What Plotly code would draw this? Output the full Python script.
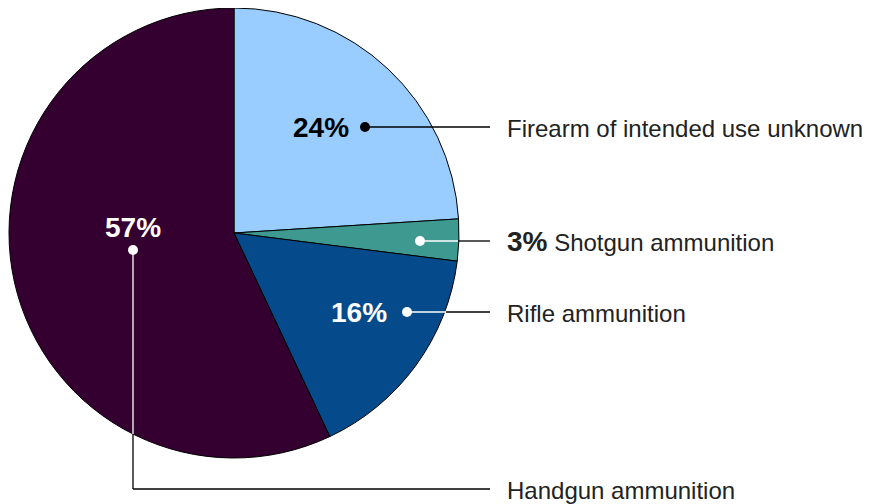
import plotly.graph_objects as go

W, H = 871, 504
# la página añade 8px de margen al cuerpo
OX, OY = 8, 8

# Datos
categorias = ['Firearm of intended use unknown', 'Shotgun ammunition',
              'Rifle ammunition', 'Handgun ammunition']
valores = [24, 3, 16, 57]
colores = ['#99ccff', '#3e9990', '#054b8b', '#330030']


def px(x):
    return (x - OX) / W


def py(y):
    return 1 - (y - OY) / H


fig = go.Figure(go.Pie(
    labels=categorias,
    values=valores,
    sort=False,
    direction='clockwise',
    rotation=0,
    textinfo='none',
    marker=dict(colors=colores, line=dict(color='black', width=1)),
    domain=dict(x=[px(9), px(459)], y=[py(458), py(8)]),
    hovertemplate='%{label}: %{value}%<extra></extra>',
    showlegend=False,
))

FONT = 'Liberation Sans, Arial, sans-serif'
shapes = []
annotations = []


def linea(x0, y0, x1, y1, color):
    shapes.append(dict(type='line', xref='paper', yref='paper',
                       x0=px(x0), y0=py(y0), x1=px(x1), y1=py(y1),
                       line=dict(color=color, width=1.3)))


def punto(x, y, color):
    shapes.append(dict(type='circle', xref='paper', yref='paper',
                       xsizemode='pixel', ysizemode='pixel',
                       xanchor=px(x), yanchor=py(y),
                       x0=-5, x1=5, y0=-5, y1=5,
                       fillcolor=color, line=dict(width=0)))


def texto(x, y, t, color='#222222', size=24, anchor='left'):
    annotations.append(dict(x=px(x), y=py(y), xref='paper', yref='paper',
                            text=t, showarrow=False, xanchor=anchor,
                            yanchor='middle',
                            font=dict(family=FONT, size=size, color=color)))


# 24%
linea(365, 127, 490, 127, 'black')
punto(365, 127, 'black')
texto(321, 127, '<b>%d%%</b>' % valores[0], 'black', 28, 'center')
texto(505, 128, categorias[0])

# 3%
linea(420, 241, 458, 241, 'white')
linea(458, 241, 490, 241, 'black')
punto(420, 241, 'white')
texto(505, 241, '<b><span style="font-size:28px">%d%%</span></b> %s'
      % (valores[1], categorias[1]))

# 16%
linea(407, 312, 446, 312, 'white')
linea(446, 312, 490, 312, 'black')
punto(407, 312, 'white')
texto(359, 312, '<b>%d%%</b>' % valores[2], 'white', 28, 'center')
texto(505, 313, categorias[2])

# 57%
linea(133, 250, 133, 434, 'white')
linea(133, 434, 133, 489, 'black')
linea(133, 489, 490, 489, 'black')
punto(133, 250, 'white')
texto(133, 227, '<b>%d%%</b>' % valores[3], 'white', 28, 'center')
texto(505, 490, categorias[3])

fig.update_layout(
    width=W, height=H,
    margin=dict(l=0, r=0, t=0, b=0),
    paper_bgcolor='white',
    plot_bgcolor='white',
    shapes=shapes,
    annotations=annotations,
)

fig.write_html("out.html")
